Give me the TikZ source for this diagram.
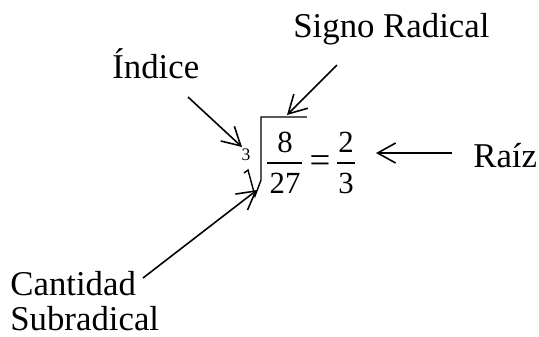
\documentclass[tikz,border=0pt]{standalone}
\usepackage{fontspec}
\setmainfont{Liberation Serif}
\usepackage{tikz}
\usetikzlibrary{arrows.meta,positioning}

\begin{document}
\begin{tikzpicture}[
    x=0.02cm, y=-0.02cm,
    label/.style={inner sep=0pt, anchor=base west, font=\fontsize{19.8}{19.8}\selectfont},
    digit/.style={inner sep=0pt, anchor=base, font=\fontsize{17.5}{17.5}\selectfont},
    pointer/.style={draw, line width=0.9pt, -{Straight Barb[length=3.6mm, width=4mm]}},
    stroke/.style={draw, line width=0.8pt}
]
\useasboundingbox (0,0) rectangle (539,336);

% Labels
\node[label] (signo) at (293,37) {Signo Radical};
\node[label] (indice) at (112,78) {Índice};
\node[label] (raiz) at (473,167) {Raíz};
\node[label, align=left] (cantidad) at (10,330) {Cantidad\\Subradical};

% Radical expression
\node[inner sep=0pt, font=\fontsize{10}{10}\selectfont] (idx) at (246,155) {3};
\node[digit] (num) at (285,152) {8};
\node[digit] (den) at (285,193) {27};
\node[digit, font=\fontsize{21}{21}\selectfont] (eq) at (320,172) {=};
\node[digit] (rnum) at (346,152) {2};
\node[digit] (rden) at (346,193) {3};
\draw[stroke] (267,163) -- (302,163);
\draw[stroke] (337,163) -- (355,163);
\draw[stroke, line join=miter] (244,173) -- (248,170) -- (255,196) -- (261,180) -- (261,117) -- (307,117);

% Arrow ends
\coordinate (indiceFrom) at (188,97);
\coordinate (indiceTo) at (242,147);
\coordinate (signoFrom) at (337,65);
\coordinate (signoTo) at (287,115);
\coordinate (raizFrom) at (452,153);
\coordinate (raizTo) at (376,153);
\coordinate (cantidadFrom) at (143,278);
\coordinate (cantidadTo) at (257,190);

% Arrows
\draw[pointer] (indiceFrom) -- (indiceTo);
\draw[pointer] (signoFrom) -- (signoTo);
\draw[pointer] (raizFrom) -- (raizTo);
\draw[pointer] (cantidadFrom) -- (cantidadTo);

\end{tikzpicture}
\end{document}
